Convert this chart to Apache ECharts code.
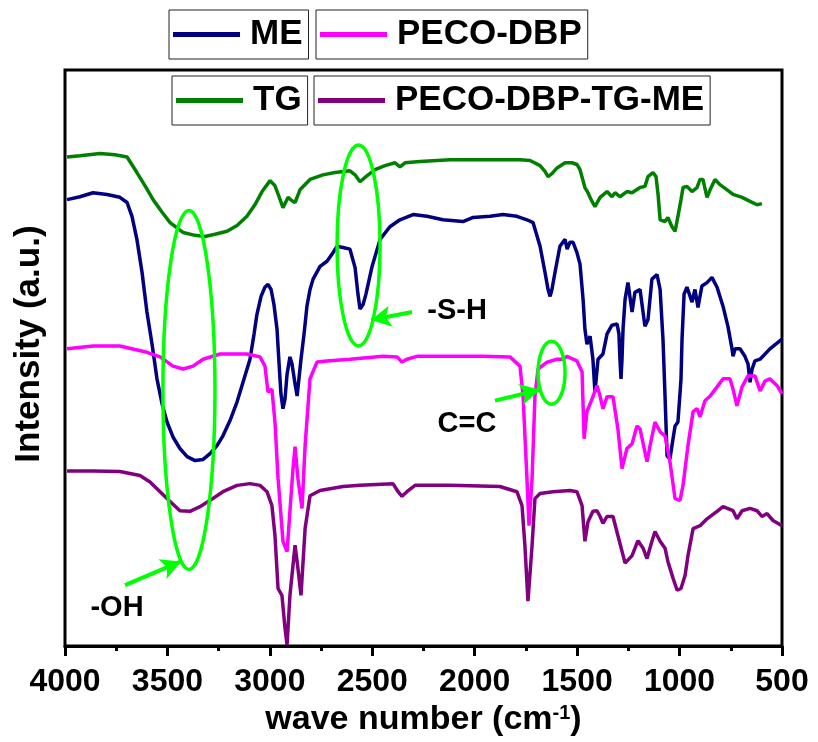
<!DOCTYPE html>
<html>
<head>
<meta charset="utf-8">
<script src="https://cdn.jsdelivr.net/npm/echarts@6/dist/echarts.min.js"></script>
<style>html,body{margin:0;padding:0;background:#fff}#c{width:818px;height:742px}</style>
</head>
<body>
<div id="c"></div>
<script>
// ---- data (wave number in cm^-1, intensity in arbitrary units) ----
const seriesNames = ['ME', 'PECO-DBP', 'TG', 'PECO-DBP-TG-ME'];
const xTicks = [4000, 3500, 3000, 2500, 2000, 1500, 1000, 500];

const tgWave = [3990,3927,3829,3756,3697,3649,3609,3570,3526,3487,3424,3365,3317,3268,3209,3160,3112,3073,3038,2999,2975,2955,2936,2911,2892,2877,2853,2804,2741,2682,2609,2584,2560,2531,2487,2438,2389,2365,2340,2267,2121,1974,1877,1779,1730,1681,1657,1642,1623,1598,1559,1525,1501,1486,1462,1447,1432,1413,1388,1354,1330,1315,1291,1257,1232,1193,1169,1154,1130,1115,1105,1095,1071,1057,1037,1022,1008,993,983,964,939,915,900,886,866,851,827,803,768,739,695,656,622,598];
const tgInt  = [84.9,85.1,85.5,85.3,84.9,82.2,79.9,77.5,75.3,73.5,71.8,71.3,71.1,71.5,72.0,73.0,74.6,76.6,78.9,80.8,79.9,78.0,76.1,77.9,77.3,77.0,79.2,81.0,81.8,82.2,82.5,81.8,80.6,81.5,82.7,83.4,83.9,83.2,83.9,84.1,84.4,84.4,84.4,84.4,84.3,83.4,82.4,81.5,82.0,83.0,83.9,83.9,83.6,82.7,79.6,78.7,77.5,76.3,77.9,78.9,78.0,78.7,78.0,78.9,78.7,79.6,79.8,81.5,82.2,81.5,78.4,74.0,73.7,74.4,72.8,72.0,74.6,77.5,79.6,79.8,78.9,79.6,81.0,81.0,77.9,79.2,81.0,80.1,79.2,78.4,77.9,77.2,76.6,76.8];

const meWave = [3990,3927,3863,3795,3732,3697,3673,3649,3624,3600,3575,3551,3526,3502,3473,3439,3404,3365,3326,3292,3258,3229,3195,3160,3131,3097,3077,3063,3043,3024,3009,2994,2980,2965,2955,2946,2936,2926,2916,2902,2892,2877,2867,2858,2848,2833,2819,2804,2789,2755,2721,2697,2672,2643,2609,2584,2570,2560,2545,2531,2501,2462,2414,2365,2301,2233,2155,2057,2008,1925,1862,1794,1745,1715,1681,1657,1642,1632,1623,1608,1584,1559,1549,1535,1520,1501,1486,1471,1462,1452,1437,1423,1413,1398,1374,1354,1330,1305,1296,1291,1286,1281,1276,1266,1252,1232,1218,1193,1169,1154,1135,1110,1095,1081,1071,1061,1047,1032,1022,1008,998,993,988,978,964,939,925,910,891,866,842,817,788,764,744,739,729,705,681,666,656,646,632,607,559,500];
const meInt  = [77.5,78.0,78.7,78.4,77.9,77.0,74.6,70.6,64.9,58.0,52.4,46.4,42.0,38.9,36.3,34.3,32.9,32.2,32.4,33.4,34.8,36.5,39.1,42.4,45.8,49.8,54.2,57.6,60.7,62.3,62.8,61.9,59.3,55.0,49.0,43.8,41.2,42.9,47.2,50.2,49.0,45.5,43.4,46.4,49.8,54.2,59.0,61.9,63.7,65.9,66.8,68.0,69.4,69.2,68.9,65.7,61.1,58.5,59.3,61.1,65.9,70.6,72.8,74.0,74.9,74.6,74.0,73.7,74.4,74.6,74.9,74.6,74.0,73.5,69.4,64.9,61.9,60.7,61.9,64.9,69.4,70.6,68.9,70.1,70.1,68.3,66.3,60.2,55.0,52.4,53.8,49.8,44.1,49.8,50.7,54.2,55.7,55.9,54.2,49.8,46.4,49.8,55.0,60.2,63.1,58.0,61.4,61.9,55.5,56.7,63.7,64.5,61.9,53.3,43.4,33.0,32.5,36.0,38.2,38.9,43.8,46.4,53.3,61.1,62.3,59.7,61.9,58.8,62.5,63.1,64.0,62.3,59.0,55.5,51.6,50.3,51.6,51.6,50.3,49.0,45.8,48.1,49.5,49.8,51.6,53.3];

const pecoWave = [3990,3863,3732,3600,3536,3473,3424,3375,3326,3243,3112,3048,3024,3009,2990,2975,2960,2936,2916,2902,2887,2877,2863,2843,2828,2804,2770,2721,2609,2448,2379,2355,2331,2282,2121,1960,1828,1779,1764,1745,1735,1720,1706,1691,1647,1598,1569,1549,1520,1501,1476,1466,1452,1427,1403,1388,1374,1354,1325,1301,1281,1257,1232,1208,1193,1159,1144,1120,1095,1071,1047,1022,998,983,959,934,915,900,876,851,817,788,754,739,720,695,666,632,607,583,559,524,500];
const pecoInt  = [51.6,52.1,52.1,51.0,50.2,48.6,48.1,48.6,49.8,50.7,50.7,50.2,48.6,44.1,44.6,38.9,29.1,18.2,16.4,23.4,30.8,34.6,29.1,23.9,34.8,46.4,49.3,49.5,49.8,50.3,50.2,49.3,49.8,50.3,50.3,50.3,50.2,48.6,43.4,29.1,20.9,29.1,43.4,48.1,49.3,49.8,49.8,50.3,49.8,49.5,47.6,36.0,40.7,42.9,45.2,43.4,41.2,43.3,43.3,37.7,30.8,34.3,35.1,38.2,37.7,32.0,34.8,38.9,37.2,36.5,32.0,25.6,25.3,27.9,34.8,40.7,41.2,39.8,42.6,43.4,45.0,46.4,46.4,44.6,41.7,45.0,46.9,46.9,44.3,46.0,46.4,45.2,43.8];

const mixWave = [3990,3863,3732,3634,3585,3536,3487,3439,3390,3341,3292,3229,3160,3097,3048,3014,2990,2975,2960,2941,2926,2916,2902,2877,2863,2848,2828,2804,2755,2643,2560,2399,2374,2355,2331,2291,2121,1877,1794,1769,1755,1740,1720,1706,1681,1618,1535,1501,1476,1462,1447,1423,1403,1388,1374,1354,1325,1301,1266,1232,1203,1178,1159,1135,1120,1095,1071,1057,1032,1012,993,973,959,934,900,866,817,788,739,720,695,656,622,598,573,544,500];
const mixInt  = [30.4,30.4,30.3,29.6,28.5,26.8,25.1,23.5,23.4,24.2,25.3,26.8,27.9,28.2,27.9,26.8,24.4,19.2,10.0,8.8,3.1,0.2,8.8,17.5,13.5,8.8,20.4,26.1,27.0,27.7,27.9,28.2,26.8,26.0,26.8,27.9,27.9,27.7,26.8,24.4,17.5,7.8,17.5,25.6,26.5,26.8,27.0,26.8,24.4,18.2,21.6,23.4,23.5,22.5,21.3,22.5,22.5,19.2,14.4,15.7,18.3,17.0,15.2,18.2,19.9,18.2,17.0,14.7,11.8,9.7,10.0,12.3,15.7,20.4,20.9,22.1,23.4,24.2,23.5,22.1,23.5,23.9,23.5,22.5,23.0,21.8,20.9];

// annotation bands (wave-number range, intensity range) and labels
const ovalWaveFrom = [3522, 2672, 1691];
const ovalWaveTo   = [3268, 2462, 1559];
const ovalIntFrom  = [75.6, 87.0, 52.9];
const ovalIntTo    = [13.3, 52.1, 42.0];
const arrowFrom = [[3707, 10.6], [2306, 58.0], [1901, 42.6]];
const arrowTo   = [[3434, 14.7], [2506, 56.6], [1681, 44.5]];
const noteText = ['-OH', '-S-H', 'C=C'];
const noteWave = [3746, 2086, 2038];
const noteInt  = [6.6, 58.1, 38.6];

const colors = {'ME':'#000080','PECO-DBP':'#FF00FF','TG':'#008000','PECO-DBP-TG-ME':'#800080'};
const FONT = 'Liberation Sans, Arial, Helvetica, sans-serif';

function pairs(w, v){ return w.map((x,i)=>[x, v[i]]); }

const lineSeries = [
  ['TG', tgWave, tgInt],
  ['ME', meWave, meInt],
  ['PECO-DBP', pecoWave, pecoInt],
  ['PECO-DBP-TG-ME', mixWave, mixInt]
].map(([n,w,v]) => ({
  name: n, type: 'line', data: pairs(w, v), showSymbol: false, symbol: 'none',
  color: colors[n], lineStyle: {width: 3.5, color: colors[n]}, z: 3, silent: true
}));

const legendBoxes = [
  {name:'ME', left:169, top:10},
  {name:'PECO-DBP', left:316, top:10},
  {name:'TG', left:172, top:76},
  {name:'PECO-DBP-TG-ME', left:314, top:76}
].map(b => ({
  data:[b.name], left:b.left, top:b.top, orient:'horizontal', selectedMode:false,
  icon:'rect', itemWidth:67, itemHeight:5,
  borderColor:'#222', borderWidth:1, borderRadius:0, padding:[7,6,7,4],
  textStyle:{fontFamily:FONT, fontWeight:'bold', fontSize:35, color:'#000', padding:[0,0,0,5]}
}));

const option = {
  animation: false,
  backgroundColor: '#fff',
  legend: legendBoxes,
  grid: {left:65, right:36, top:70, bottom:94, show:true, borderColor:'#000', borderWidth:3, backgroundColor:'transparent'},
  xAxis: {
    type:'value', min:500, max:4000, interval:500, inverse:true,
    name:'{a|wave number (cm}{s|-1}{a|)}', nameLocation:'middle', nameGap:46,
    nameTextStyle:{rich:{
      a:{fontFamily:FONT, fontWeight:'bold', fontSize:34, color:'#000'},
      s:{fontFamily:FONT, fontWeight:'bold', fontSize:20, color:'#000', padding:[0,0,14,0]}
    }},
    axisLine:{show:true, lineStyle:{color:'#000', width:3}},
    axisTick:{show:true, inside:false, length:10, lineStyle:{color:'#000', width:3}},
    minorTick:{show:true, splitNumber:2, length:5, lineStyle:{color:'#000', width:3}},
    axisLabel:{fontFamily:FONT, fontWeight:'bold', fontSize:32, color:'#000', margin:20,
      formatter: v => xTicks.includes(v) ? String(v) : ''},
    splitLine:{show:false}
  },
  yAxis: {
    type:'value', min:0, max:100,
    name:'Intensity (a.u.)', nameLocation:'middle', nameGap:18,
    nameTextStyle:{fontFamily:FONT, fontWeight:'bold', fontSize:35, color:'#000', padding:[0,0,0,28]},
    axisLine:{show:false}, axisTick:{show:false}, axisLabel:{show:false}, splitLine:{show:false}
  },
  series: lineSeries.concat([
    {
      name:'ovals', type:'custom', silent:true, z:5,
      data: ovalWaveFrom.map((w,i)=>[w, ovalWaveTo[i], ovalIntFrom[i], ovalIntTo[i]]),
      encode:{x:[0,1], y:[2,3]},
      renderItem: function(params, api){
        const p1 = api.coord([api.value(0), api.value(2)]);
        const p2 = api.coord([api.value(1), api.value(3)]);
        return {type:'ellipse', shape:{cx:(p1[0]+p2[0])/2, cy:(p1[1]+p2[1])/2,
          rx:Math.abs(p2[0]-p1[0])/2, ry:Math.abs(p2[1]-p1[1])/2},
          style:{fill:'none', stroke:'#00FF00', lineWidth:3.5}};
      }
    },
    {
      name:'notes', type:'custom', silent:true, z:6,
      data: noteWave.map((w,i)=>[w, noteInt[i]]),
      renderItem: function(params, api){
        const p = api.coord([api.value(0), api.value(1)]);
        return {type:'text', style:{x:p[0], y:p[1], text:noteText[params.dataIndex],
          font:'bold 29px ' + FONT, fill:'#000', align:'center', verticalAlign:'middle'}};
      }
    },
    {
      name:'arrows', type:'line', data:[], silent:true, z:6,
      markLine:{
        silent:true, symbol:['none','arrow'], symbolSize:[16,20],
        label:{show:false},
        lineStyle:{color:'#00FF00', width:4, type:'solid'},
        emphasis:{disabled:true},
        data: arrowFrom.map((a,i)=>[{coord:a}, {coord:arrowTo[i]}])
      }
    }
  ])
};

const chart = echarts.init(document.getElementById('c'), null, {renderer:'canvas'});
chart.setOption(option);
</script>
</body>
</html>
